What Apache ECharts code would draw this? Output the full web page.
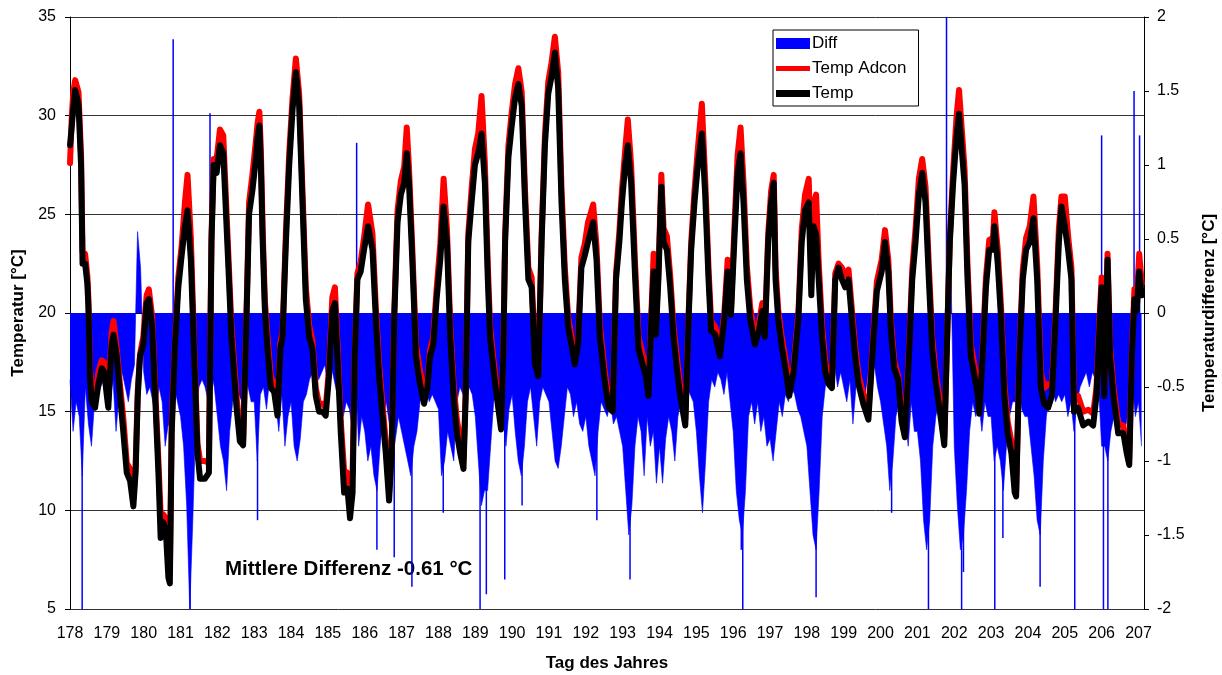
<!DOCTYPE html>
<html>
<head>
<meta charset="utf-8">
<script src="https://cdn.jsdelivr.net/npm/echarts@6/dist/echarts.min.js"></script>
<style>
html, body { margin: 0; padding: 0; background: #fff; }
#chart { width: 1222px; height: 675px; }
</style>
</head>
<body>
<div id="chart"></div>
<script>
// day of year for each temperature reading
var tempDays = [
    178.00, 178.05, 178.09, 178.14, 178.18, 178.23, 178.30, 178.34, 178.41, 178.47, 178.50, 178.54, 178.59, 178.68, 178.77, 178.86, 178.93,
    179.00, 179.04, 179.13, 179.18, 179.27, 179.36, 179.45, 179.54, 179.63, 179.72, 179.78, 179.84, 179.90, 179.99,
    180.08, 180.14, 180.23, 180.31, 180.40, 180.46, 180.53, 180.60, 180.67, 180.71, 180.76, 180.85, 180.94,
    181.03, 181.12, 181.19, 181.28, 181.37, 181.46, 181.53, 181.66, 181.77, 181.84, 181.90, 181.98,
    182.07, 182.16, 182.29, 182.38, 182.52, 182.61, 182.70, 182.79, 182.86, 182.95,
    183.05, 183.09, 183.14, 183.18, 183.23, 183.29, 183.36, 183.45, 183.54, 183.63, 183.71, 183.77, 183.86, 183.95,
    184.04, 184.13, 184.22, 184.31, 184.40, 184.49, 184.58, 184.67, 184.76, 184.85, 184.94,
    185.03, 185.12, 185.19, 185.26, 185.35, 185.44, 185.53, 185.60, 185.67, 185.73, 185.80, 185.89, 185.98,
    186.09, 186.21, 186.30, 186.39, 186.48, 186.57, 186.66, 186.73, 186.80, 186.89, 186.98,
    187.07, 187.14, 187.20, 187.29, 187.39, 187.48, 187.61, 187.70, 187.77, 187.86, 187.95,
    188.05, 188.14, 188.23, 188.32, 188.41, 188.50, 188.59, 188.68, 188.74, 188.81, 188.90, 188.99,
    189.08, 189.17, 189.26, 189.34, 189.40, 189.49, 189.58, 189.70, 189.76, 189.81, 189.90, 189.99,
    190.08, 190.17, 190.26, 190.35, 190.44, 190.53, 190.62, 190.71, 190.80, 190.89, 190.98,
    191.07, 191.16, 191.25, 191.34, 191.43, 191.52, 191.61, 191.70, 191.79, 191.88, 191.97,
    192.06, 192.20, 192.29, 192.38, 192.51, 192.62, 192.73, 192.82, 192.91, 192.98,
    193.07, 193.14, 193.23, 193.34, 193.43, 193.54, 193.63, 193.70, 193.78, 193.84, 193.90, 193.97,
    194.05, 194.11, 194.20, 194.29, 194.38, 194.47, 194.56, 194.70, 194.79, 194.86, 194.95,
    195.04, 195.15, 195.24, 195.33, 195.40, 195.51, 195.64, 195.76, 195.85, 195.94,
    196.03, 196.12, 196.20, 196.28, 196.37, 196.46, 196.59, 196.70, 196.79, 196.86, 196.95,
    197.03, 197.10, 197.15, 197.22, 197.31, 197.45, 197.52, 197.64, 197.77, 197.86, 197.95,
    198.05, 198.12, 198.18, 198.25, 198.32, 198.41, 198.50, 198.59, 198.68, 198.77, 198.86, 198.95,
    199.04, 199.13, 199.22, 199.31, 199.40, 199.53, 199.67, 199.81, 199.90,
    200.03, 200.12, 200.21, 200.28, 200.37, 200.48, 200.57, 200.66, 200.77, 200.86, 200.95,
    201.04, 201.13, 201.22, 201.31, 201.40, 201.49, 201.61, 201.73, 201.82, 201.88, 201.97,
    202.06, 202.13, 202.22, 202.28, 202.36, 202.45, 202.55, 202.64, 202.68, 202.77, 202.86, 202.95,
    203.05, 203.09, 203.18, 203.27, 203.36, 203.45, 203.55, 203.64, 203.68, 203.77, 203.86, 203.95,
    204.05, 204.15, 204.25, 204.35, 204.44, 204.55, 204.65, 204.75, 204.84, 204.91,
    205.00, 205.09, 205.18, 205.25, 205.36, 205.50, 205.64, 205.77, 205.86, 205.93,
    206.00, 206.07, 206.16, 206.23, 206.32, 206.45, 206.59, 206.68, 206.75, 206.82, 206.89, 206.95,
    207.02, 207.09
];

// Temp (reference sensor)
var tempVals = [
    28.5, 29.5, 30.4, 31.3, 31.0, 30.6, 27.5, 22.5, 22.5, 21.5, 20.3, 16.8, 15.5, 15.2, 16.4, 17.2, 17.0,
    15.8, 15.2, 18.4, 18.9, 17.8, 15.8, 13.9, 11.9, 11.5, 10.2, 11.9, 15.8, 17.8, 18.4,
    20.5, 20.7, 19.3, 15.8, 11.9, 8.6, 9.4, 9.0, 6.6, 6.3, 13.9, 18.4, 21.3,
    22.9, 24.4, 25.2, 22.7, 17.8, 12.9, 11.6, 11.6, 11.9, 23.6, 27.5, 27.1,
    28.5, 28.1, 22.7, 18.8, 15.2, 13.5, 13.3, 19.7, 25.0, 26.2,
    27.9, 28.9, 29.5, 27.5, 23.6, 20.1, 18.2, 16.2, 16.0, 14.8, 18.2, 18.8, 23.6, 27.5,
    30.3, 32.2, 30.5, 25.6, 20.7, 18.8, 18.2, 15.8, 15.0, 15.0, 14.8,
    16.8, 20.1, 20.5, 17.8, 13.9, 10.9, 11.1, 9.6, 10.9, 17.8, 21.7, 22.1, 23.2,
    24.4, 23.2, 19.7, 16.8, 14.8, 12.9, 10.5, 12.9, 19.7, 24.6, 26.0,
    26.6, 28.1, 26.6, 22.7, 17.8, 16.6, 15.4, 16.2, 17.8, 18.4, 20.7,
    22.7, 25.4, 23.6, 18.8, 15.8, 13.9, 12.9, 12.1, 15.8, 23.6, 25.6, 27.5,
    28.1, 29.1, 26.6, 21.7, 18.8, 17.2, 15.8, 14.1, 17.8, 23.6, 27.9, 29.5,
    30.9, 31.6, 30.5, 25.6, 21.7, 21.3, 17.4, 16.8, 23.6, 28.5, 31.1,
    32.0, 33.2, 31.4, 25.6, 21.7, 19.3, 18.4, 17.4, 18.4, 22.3, 22.9,
    23.6, 24.6, 22.7, 18.8, 16.6, 15.2, 15.0, 21.7, 23.6, 25.6,
    27.5, 28.5, 26.6, 21.7, 18.2, 17.4, 16.8, 15.8, 19.7, 22.1, 18.9, 21.7,
    26.4, 23.6, 23.2, 21.3, 18.8, 17.2, 15.8, 14.3, 19.7, 23.2, 25.6,
    27.5, 29.1, 26.0, 21.7, 19.1, 18.9, 17.8, 19.7, 22.1, 19.9,
    23.6, 27.1, 28.1, 25.6, 21.7, 19.7, 18.4, 19.1, 20.1, 18.8, 23.6,
    25.6, 26.6, 21.7, 19.7, 18.4, 16.8, 15.8, 17.0, 19.7, 23.6, 25.2,
    25.6, 20.9, 24.4, 24.0, 21.7, 18.8, 17.0, 16.4, 16.2, 21.7, 22.3, 21.7,
    21.3, 21.7, 19.7, 17.8, 16.4, 15.4, 14.6, 18.8, 21.1,
    22.1, 23.6, 22.1, 19.1, 17.2, 16.6, 14.5, 13.7, 17.8, 21.7, 23.6,
    26.0, 27.1, 25.6, 21.7, 18.2, 16.6, 15.0, 13.3, 19.7, 23.6, 26.6,
    28.9, 30.1, 27.9, 26.5, 21.7, 17.8, 16.8, 15.8, 14.9, 17.8, 21.3, 23.2,
    23.2, 24.4, 22.5, 19.7, 15.8, 13.9, 12.9, 10.9, 10.7, 17.8, 21.7, 23.2,
    23.6, 24.8, 21.7, 16.2, 15.4, 15.2, 15.8, 19.7, 23.6, 25.4,
    24.4, 23.2, 21.7, 15.0, 15.2, 14.3, 14.5, 14.3, 15.8, 18.8,
    21.3, 15.8, 22.7, 17.8, 15.8, 13.9, 13.9, 12.9, 12.3, 17.8, 20.7, 20.1,
    22.1, 20.9
];

// Temp Adcon
var adconVals = [
    27.6, 30.0, 31.2, 31.8, 31.8, 31.2, 28.0, 23.1, 23.0, 21.9, 20.7, 17.3, 15.9, 15.6, 17.0, 17.6, 17.5,
    16.2, 15.6, 19.0, 19.6, 18.2, 16.3, 14.6, 12.4, 12.1, 10.6, 12.2, 16.1, 17.9, 18.8,
    20.9, 21.2, 19.8, 16.3, 12.5, 9.8, 9.8, 9.6, 7.2, 6.8, 14.5, 18.6, 21.8,
    23.4, 25.6, 27.0, 23.8, 18.3, 13.4, 12.5, 12.5, 12.4, 23.9, 27.8, 27.8,
    29.3, 29.0, 23.3, 19.4, 15.8, 14.0, 13.6, 20.0, 25.6, 27.0,
    28.8, 29.6, 30.2, 28.3, 24.2, 20.6, 18.8, 16.8, 16.4, 15.2, 18.5, 19.1, 24.1, 28.1,
    30.9, 32.9, 31.1, 26.2, 21.3, 19.4, 18.6, 16.2, 15.4, 15.4, 15.2,
    17.2, 20.8, 21.3, 18.4, 14.5, 12.0, 11.9, 11.0, 11.9, 18.0, 22.0, 22.6, 23.8,
    25.5, 24.0, 20.3, 17.4, 15.4, 13.5, 10.9, 13.2, 20.0, 25.2, 26.7,
    27.4, 29.4, 27.4, 23.3, 18.4, 17.3, 16.0, 16.5, 18.1, 18.8, 21.2,
    23.5, 26.8, 24.3, 19.4, 16.4, 14.6, 13.6, 12.6, 16.0, 24.0, 26.3, 28.3,
    29.1, 31.0, 27.6, 22.4, 19.4, 17.7, 16.2, 14.5, 18.0, 24.0, 28.5, 30.2,
    31.6, 32.4, 31.2, 26.2, 22.3, 21.8, 17.9, 17.1, 23.9, 29.0, 31.7,
    32.7, 34.0, 32.2, 26.3, 22.3, 19.8, 18.8, 17.7, 18.7, 22.8, 23.5,
    24.6, 25.5, 23.4, 19.4, 17.1, 15.6, 15.3, 22.0, 24.1, 26.2,
    28.3, 29.8, 27.5, 22.4, 18.8, 17.9, 17.2, 16.2, 20.0, 23.0, 19.4, 22.0,
    27.0, 24.3, 23.9, 21.9, 19.3, 17.8, 16.3, 14.6, 19.9, 23.6, 26.2,
    28.3, 30.6, 26.8, 22.3, 19.6, 19.3, 18.1, 20.0, 22.7, 20.2,
    24.2, 28.0, 29.4, 26.6, 22.4, 20.3, 18.8, 19.5, 20.5, 19.1, 24.0,
    26.2, 27.0, 22.3, 20.2, 18.9, 17.3, 16.2, 17.3, 20.0, 24.2, 26.0,
    26.8, 21.8, 25.5, 26.0, 22.6, 19.4, 17.5, 16.8, 16.5, 22.0, 22.5, 22.3,
    21.9, 22.2, 20.2, 18.3, 16.9, 15.9, 15.0, 19.1, 21.6,
    22.7, 24.2, 22.7, 19.6, 17.6, 16.8, 15.0, 14.1, 18.1, 22.2, 24.3,
    26.8, 27.8, 26.4, 22.4, 18.8, 17.1, 15.5, 13.7, 19.6, 23.8, 27.2,
    29.9, 31.3, 28.9, 27.3, 22.4, 18.4, 17.3, 16.2, 15.3, 18.1, 21.8, 23.7,
    23.8, 25.1, 23.2, 20.3, 16.4, 14.5, 13.5, 11.4, 11.0, 18.1, 22.2, 23.8,
    24.4, 25.9, 22.5, 17.0, 16.2, 16.4, 16.3, 20.1, 24.3, 25.9,
    25.9, 23.9, 22.3, 15.6, 15.8, 15.0, 15.1, 14.9, 16.2, 19.2,
    21.8, 16.3, 23.0, 18.3, 16.3, 14.4, 14.3, 13.3, 12.6, 18.1, 21.2, 20.6,
    23.0, 21.5
];

// Diff base level, one value every 2 hours starting at day 178.0
var diffStart = 178;
var diffStep = 1 / 12;
var diffVals = [
    -0.45, -0.8, -0.6, -0.7, -1.1, -0.5, -0.75, -0.9, -0.6, -0.55, -0.5, -0.45,
    -0.5, -0.6, -0.45, -0.8, -0.55, -0.4, -0.5, -0.6, -0.45, -0.35, 0.55, 0.3,
    -0.4, -0.55, -0.5, -0.6, -0.7, -0.5, -0.6, -0.9, -0.75, -0.8, -0.5, -0.6,
    -0.7, -0.9, -1.3, -2.0, -1.4, -0.7, -0.5, -0.45, -0.5, -0.6, -0.4, -0.5,
    -0.7, -0.9, -1.0, -1.2, -0.8, -0.6, -0.5, -0.55, -0.6, -0.45, -0.5, -0.6,
    -0.6, -1.0, -0.55, -0.5, -0.65, -0.45, -0.5, -0.6, -0.8, -0.55, -0.9, -0.7,
    -0.6, -0.9, -1.0, -0.85, -0.6, -0.55, -0.45, -0.4, -0.35, -0.45, -0.4, -0.35,
    -0.5, -0.35, -0.45, -0.55, -0.5, -0.7, -0.6, -0.65, -0.8, -0.4, -0.9, -0.7,
    -0.8, -1.0, -0.9, -1.1, -1.2, -0.9, -0.7, -0.6, -0.75, -1.0, -0.85, -0.7,
    -0.8, -0.9, -1.0, -1.1, -0.9, -0.8, -0.6, -0.55, -0.5, -0.6, -0.55, -0.6,
    -0.65, -1.1, -1.0, -0.8, -0.9, -1.0, -0.6, -0.5, -0.55, -0.6, -0.5, -0.55,
    -0.7, -1.0, -1.3, -1.2, -1.2, -0.9, -0.6, -0.5, -0.55, -0.7, -0.9, -0.65,
    -0.55, -0.8, -1.0, -1.1, -0.9, -0.6, -0.5, -0.7, -0.9, -0.6, -0.5, -0.55,
    -0.6, -0.8, -1.0, -1.05, -0.9, -0.7, -0.5, -0.55, -0.7, -0.6, -0.75, -0.8,
    -0.7, -0.9, -1.0, -1.1, -0.8, -0.6, -0.65, -0.7, -0.6, -0.75, -0.7, -0.8,
    -0.9, -1.2, -1.5, -1.3, -0.9, -0.7, -0.8, -1.1, -0.7, -0.9, -0.8, -1.15,
    -0.9, -1.15, -0.85, -0.7, -0.8, -1.0, -0.7, -0.6, -0.65, -0.5, -0.55, -0.6,
    -0.8, -1.1, -1.35, -1.0, -0.6, -0.45, -0.5, -0.4, -0.45, -0.55, -0.4, -0.6,
    -0.8, -1.2, -1.4, -1.5, -1.2, -0.7, -0.6, -0.75, -0.6, -0.8, -0.7, -0.9,
    -0.85, -1.0, -0.8, -0.6, -0.7, -0.55, -0.6, -0.5, -0.55, -0.65, -0.7, -0.8,
    -0.9, -1.2, -1.5, -1.6, -1.2, -0.7, -0.5, -0.4, -0.45, -0.35, -0.5, -0.4,
    -0.5, -0.6, -0.45, -0.75, -0.5, -0.4, -0.5, -0.55, -0.4, -0.45, -0.35, -0.5,
    -0.6, -0.75, -0.9, -1.2, -1.0, -0.7, -0.6, -0.8, -0.7, -0.9, -0.6, -0.8,
    -0.8, -1.0, -1.4, -1.6, -1.4, -0.9, -0.7, -0.6, -0.75, -0.9, 0.3, 0.2,
    -0.9, -1.3, -1.6, -1.5, -1.2, -0.8, -0.6, -0.7, -0.6, -0.8, -0.6, -0.7,
    -0.7, -1.0, -0.9, -1.0, -1.2, -0.9, -0.7, -0.6, -0.6, -0.5, -0.65, -0.7,
    -0.7, -0.9, -1.1, -1.4, -1.5, -1.0, -0.7, -0.55, -0.5, -0.6, -0.55, -0.6,
    -0.55, -0.7, -0.6, -0.8, -0.6, -0.5, -0.45, -0.4, -0.5, -0.4, -0.45, -0.5,
    -0.9, -0.9, -1.0, -0.8, -0.7, -0.6, -0.7, -0.8, -0.75, -0.6, -0.5, -0.7,
    -0.6, -0.9
];

// Diff single-reading spikes
var spikeDays = [
    178.33, 180.80, 181.26, 181.80, 183.09, 183.78, 185.78, 186.33, 186.80, 187.28,
    188.13, 189.13, 189.30, 189.80, 190.27, 192.30, 193.20, 196.22, 196.26, 198.25,
    200.30, 201.30, 201.79, 202.20, 202.25, 203.10, 203.32, 204.33, 205.27, 206.00,
    206.05, 206.17, 206.88, 207.03
];
var spikeVals = [
    -2.0, 1.85, -2.0, 1.35, -1.4, 0.4, 1.15, -1.6, -1.65, -1.85,
    -1.35, -2.0, -1.9, -1.8, -1.3, -1.4, -1.8, -1.6, -2.0, -1.92,
    -1.35, -2.0, 2.0, -2.0, -1.75, -2.0, -1.52, -1.85, -2.0, 1.2,
    -2.0, -2.0, 1.5, 1.2
];

var meanDiffText = 'Mittlere Differenz -0.61 °C';

var fontName = '"Liberation Sans", Arial, sans-serif';

var tempData = [];
var adconData = [];
for (var i = 0; i < tempDays.length; i++) {
    tempData.push([tempDays[i], tempVals[i]]);
    adconData.push([tempDays[i], adconVals[i]]);
}
var diffData = [];
for (var j = 0; j < diffVals.length; j++) {
    diffData.push([diffStart + j * diffStep, diffVals[j]]);
}
var spikeData = [];
for (var k = 0; k < spikeDays.length; k++) {
    spikeData.push([spikeDays[k], spikeVals[k]]);
}

// thin vertical bar from 0 to the value, through the axes
function renderSpike(params, api) {
    var base = api.coord([api.value(0), 0]);
    var tip = api.coord([api.value(0), api.value(1)]);
    return {
        type: 'rect',
        shape: {
            x: base[0] - 0.75,
            y: Math.min(base[1], tip[1]),
            width: 1.5,
            height: Math.abs(tip[1] - base[1])
        },
        style: { fill: '#0000ff' }
    };
}

var myChart = echarts.init(document.getElementById('chart'));

var option = {
    animation: false,
    backgroundColor: '#fff',
    grid: {
        left: 70,
        right: 78,
        top: 17,
        bottom: 66,
        outerBoundsMode: 'none'
    },
    legend: {
        orient: 'vertical',
        left: 773,
        top: 30,
        padding: [5, 12, 4, 3],
        itemGap: 8,
        itemWidth: 34,
        itemHeight: 11,
        borderColor: '#000',
        borderWidth: 1,
        borderRadius: 0,
        backgroundColor: '#fff',
        textStyle: { fontSize: 17, color: '#000', fontFamily: fontName, padding: [0, 0, 0, -3] },
        data: [
            { name: 'Diff', icon: 'rect' },
            { name: 'Temp Adcon', icon: 'path://M0,0 L34,0 L34,5 L0,5 Z' },
            { name: 'Temp', icon: 'path://M0,0 L34,0 L34,7 L0,7 Z' }
        ]
    },
    xAxis: {
        type: 'value',
        min: 178,
        max: 207.15,
        interval: 1,
        name: 'Tag des Jahres',
        nameLocation: 'middle',
        nameGap: 46,
        nameTextStyle: { fontSize: 17, fontWeight: 'bold', color: '#000', fontFamily: fontName },
        axisLine: { lineStyle: { color: '#000', width: 1 } },
        axisTick: { length: 5, lineStyle: { color: '#000' } },
        axisLabel: {
            margin: 17,
            fontSize: 16,
            color: '#000',
            fontFamily: fontName,
            showMaxLabel: false,
            formatter: function (v) {
                return Number.isInteger(v) ? String(v) : '';
            }
        },
        splitLine: { show: false }
    },
    yAxis: [{
        type: 'value',
        min: 5,
        max: 35,
        interval: 5,
        name: 'Temperatur [°C]',
        nameLocation: 'middle',
        nameRotate: 90,
        nameGap: 39,
        nameTextStyle: { fontSize: 17, fontWeight: 'bold', color: '#000', fontFamily: fontName },
        axisLine: { show: true, lineStyle: { color: '#000', width: 1 } },
        axisTick: { show: true, length: 5, lineStyle: { color: '#000' } },
        axisLabel: { margin: 14, fontSize: 16, color: '#000', fontFamily: fontName },
        splitLine: { show: true, lineStyle: { color: '#333', width: 1 } }
    }, {
        type: 'value',
        min: -2,
        max: 2,
        interval: 0.5,
        position: 'right',
        name: 'Temperaturdifferenz [°C]',
        nameLocation: 'middle',
        nameRotate: 90,
        nameGap: 57,
        nameTextStyle: { fontSize: 17, fontWeight: 'bold', color: '#000', fontFamily: fontName },
        axisLine: { show: true, lineStyle: { color: '#000', width: 1 } },
        axisTick: { show: true, length: 5, lineStyle: { color: '#000' } },
        axisLabel: { margin: 13, fontSize: 16, color: '#000', fontFamily: fontName },
        splitLine: { show: false }
    }],
    graphic: [{
        type: 'text',
        left: 225,
        top: 559,
        style: {
            text: meanDiffText,
            font: 'bold 20.5px ' + fontName,
            fill: '#000'
        }
    }],
    series: [{
        name: 'Diff',
        type: 'line',
        yAxisIndex: 1,
        data: diffData,
        symbol: 'none',
        color: '#0000ff',
        lineStyle: { width: 0.6, color: '#0000ff' },
        areaStyle: { color: '#0000ff', opacity: 1 },
        z: 1
    }, {
        name: 'Diff',
        type: 'custom',
        yAxisIndex: 1,
        data: spikeData,
        renderItem: renderSpike,
        encode: { x: 0, y: 1 },
        color: '#0000ff',
        clip: true,
        z: 1
    }, {
        name: 'Temp Adcon',
        type: 'line',
        data: adconData,
        symbol: 'none',
        color: '#ff0000',
        lineStyle: { width: 6, color: '#ff0000', join: 'round', cap: 'round' },
        z: 2
    }, {
        name: 'Temp',
        type: 'line',
        data: tempData,
        symbol: 'none',
        color: '#000000',
        lineStyle: { width: 6, color: '#000000', join: 'round', cap: 'round' },
        z: 3
    }]
};

myChart.setOption(option);
</script>
</body>
</html>
